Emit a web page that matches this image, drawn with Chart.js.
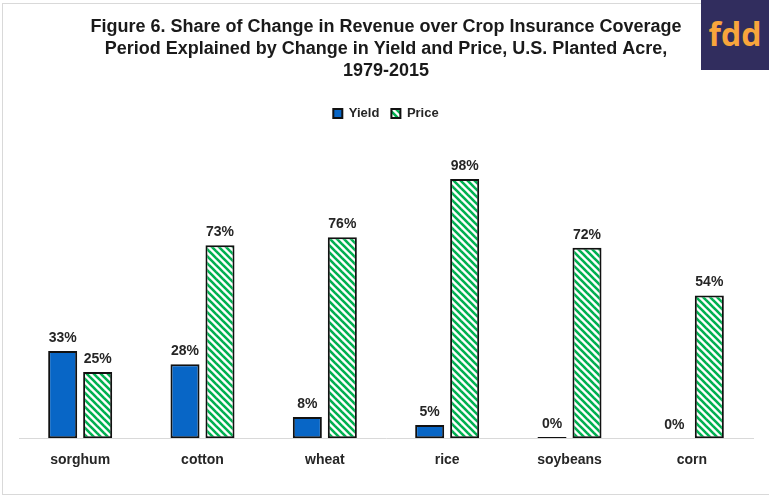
<!DOCTYPE html>
<html>
<head>
<meta charset="utf-8">
<script src="https://cdn.jsdelivr.net/npm/chart.js@4.4.1/dist/chart.umd.min.js"></script>
<style>
  body { margin: 0; background: #fff; }
  #wrap { position: relative; width: 769px; height: 497px; }
  #frame { position: absolute; left: 2px; top: 3px; width: 780px; height: 492px; border: 1px solid #d9d9d9; box-sizing: border-box; }
  #logo { position: absolute; left: 701px; top: 0; width: 68px; height: 70px; background: #312d5e;
          color: #f8a53c; font: bold 32px "Open Sans", Arial, sans-serif; text-align: center; line-height: 68px; }
  canvas { position: absolute; left: 0; top: 0; }
</style>
</head>
<body>
<div id="wrap">
  <div id="frame"></div>
  <canvas id="chartViz" width="769" height="497"></canvas>
  <div id="logo">fdd</div>
</div>
<script>
var crops = ["sorghum", "cotton", "wheat", "rice", "soybeans", "corn"];
var yieldShare = [33, 28, 8, 5, 0.45, 0];
var priceShare = [25, 73, 76, 98, 72, 54];
var titleLines = [
    "Figure 6. Share of Change in Revenue over Crop Insurance Coverage",
    "Period Explained by Change in Yield and Price, U.S. Planted Acre,",
    "1979-2015"
];

function makeStripes(){
    var s = 7;
    var c = document.createElement("canvas");
    c.width = s; c.height = s;
    var g = c.getContext("2d");
    g.fillStyle = "#ffffff";
    g.fillRect(0, 0, s, s);
    g.strokeStyle = "#00b050";
    g.lineWidth = 2.6;
    for (var k = -1; k <= 1; k++){
        g.beginPath();
        g.moveTo(k * s - 1, -1);
        g.lineTo(k * s + s + 1, s + 1);
        g.stroke();
    }
    return g.createPattern(c, "repeat");
}

var valueLabels = {
    id : "valueLabels",
    afterDatasetsDraw : function(chart){
        var ctx = chart.ctx;
        ctx.save();
        ctx.font = "bold 14px Arial, 'Liberation Sans', sans-serif";
        ctx.fillStyle = "#262626";
        ctx.textAlign = "center";
        ctx.textBaseline = "bottom";
        chart.data.datasets.forEach(function(ds, i){
            chart.getDatasetMeta(i).data.forEach(function(bar, j){
                ctx.fillText(Math.round(ds.data[j]) + "%", bar.x, bar.y - 6);
            });
        });
        ctx.restore();
    }
};

window.onload = function(){
    var context = document.getElementById("chartViz").getContext("2d");
    var stripes = makeStripes();
    var config = {
        type : "bar",
        data : {
            labels : crops,
            datasets : [
                { label : "Yield", data : yieldShare, backgroundColor : "#0866c6",
                  borderColor : "#111", borderWidth : 2, borderSkipped : false },
                { label : "Price", data : priceShare, backgroundColor : stripes,
                  borderColor : "#111", borderWidth : 2, borderSkipped : false }
            ]
        },
        options : {
            responsive : false,
            animation : false,
            categoryPercentage : 0.572,
            barPercentage : 0.83,
            layout : { padding : { left : 19, right : 16, top : 12, bottom : 22 } },
            plugins : {
                title : {
                    display : true,
                    text : titleLines,
                    color : "#1a1a1a",
                    font : { family : "Arial, 'Liberation Sans', sans-serif", size : 18, weight : "bold", lineHeight : 1.22 },
                    padding : { top : 4, bottom : 13 }
                },
                legend : {
                    display : true,
                    labels : {
                        boxWidth : 9, boxHeight : 9, color : "#262626",
                        font : { family : "Arial, 'Liberation Sans', sans-serif", size : 13, weight : "bold" },
                        padding : 12
                    }
                },
                tooltip : { enabled : false }
            },
            scales : {
                x : {
                    grid : { display : false },
                    border : { color : "#d9d9d9", width : 1 },
                    ticks : { color : "#262626", padding : 6,
                              font : { family : "Arial, 'Liberation Sans', sans-serif", size : 14, weight : "bold" } }
                },
                y : { display : false, min : 0, max : 116.6 }
            }
        },
        plugins : [valueLabels]
    };
    new Chart(context, config);
};
</script>
</body>
</html>
